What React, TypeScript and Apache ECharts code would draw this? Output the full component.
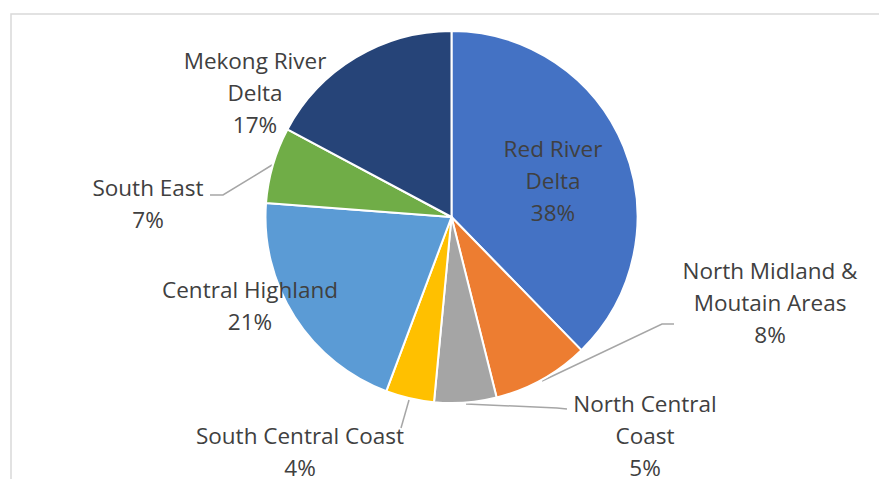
import React, { useEffect, useRef } from "react";
import * as echarts from "echarts";

const regions = [
  "Red River\nDelta",
  "North Midland &\nMoutain Areas",
  "North Central\nCoast",
  "South Central Coast",
  "Central Highland",
  "South East",
  "Mekong River\nDelta",
];
const shares = [37.7, 8.4, 5.4, 4.2, 20.5, 6.6, 17.2];
const colors = ["#4472C4", "#ED7D31", "#A5A5A5", "#FFC000", "#5B9BD5", "#70AD47", "#264478"];
const hasLeader = [false, true, true, true, false, true, false];

// label placement (centre of text block) and leader lines
const labelPos: number[][] = [
  [553, 180],
  [770, 302],
  [645, 435],
  [300, 451],
  [250, 305],
  [148, 203],
  [255, 92],
];
const leaderPts: number[][][] = [
  [],
  [[542, 381], [662, 324], [674, 324]],
  [[466, 404], [557, 408], [567, 409]],
  [[409, 400], [401, 428]],
  [],
  [[272, 165], [223, 195], [210, 195]],
  [],
];

export default function App() {
  const ref = useRef<HTMLDivElement>(null);
  useEffect(() => {
    document.body.style.margin = "0";
    const chart = echarts.init(ref.current!, undefined, { renderer: "svg" });
    const total = shares.reduce((a, b) => a + b, 0);
    chart.setOption({
      animation: false,
      backgroundColor: "#ffffff",
      graphic: [
        {
          type: "rect",
          shape: { x: 11, y: 14, width: 900, height: 500 },
          style: { fill: "none", stroke: "#d9d9d9", lineWidth: 1.5 },
          silent: true,
          z: -10,
        },
      ],
      series: [
        {
          type: "pie",
          center: [451.5, 217],
          radius: 186,
          startAngle: 90,
          clockwise: true,
          itemStyle: { borderColor: "#ffffff", borderWidth: 2 },
          label: {
            show: true,
            position: "outside",
            fontFamily: "Open Sans",
            fontSize: 22.5,
            lineHeight: 32,
            color: "#404040",
            align: "center",
            formatter: (p: any) => `${regions[p.dataIndex]}\n${Math.round((p.value / total) * 100)}%`,
          },
          labelLine: { show: true, lineStyle: { color: "#a6a6a6", width: 1.5 }, length: 10, length2: 10 },
          labelLayout: (p: any) => {
            const i = p.dataIndex;
            const o: any = {
              x: labelPos[i][0],
              y: labelPos[i][1],
              align: "center",
              verticalAlign: "middle",
            };
            if (hasLeader[i]) o.labelLinePoints = leaderPts[i];
            return o;
          },
          data: shares.map((v, i) => ({
            value: v,
            name: regions[i],
            itemStyle: { color: colors[i] },
            labelLine: { show: hasLeader[i] },
          })),
        },
      ],
    });
    return () => chart.dispose();
  }, []);
  return <div ref={ref} style={{ width: 879, height: 479 }} />;
}
